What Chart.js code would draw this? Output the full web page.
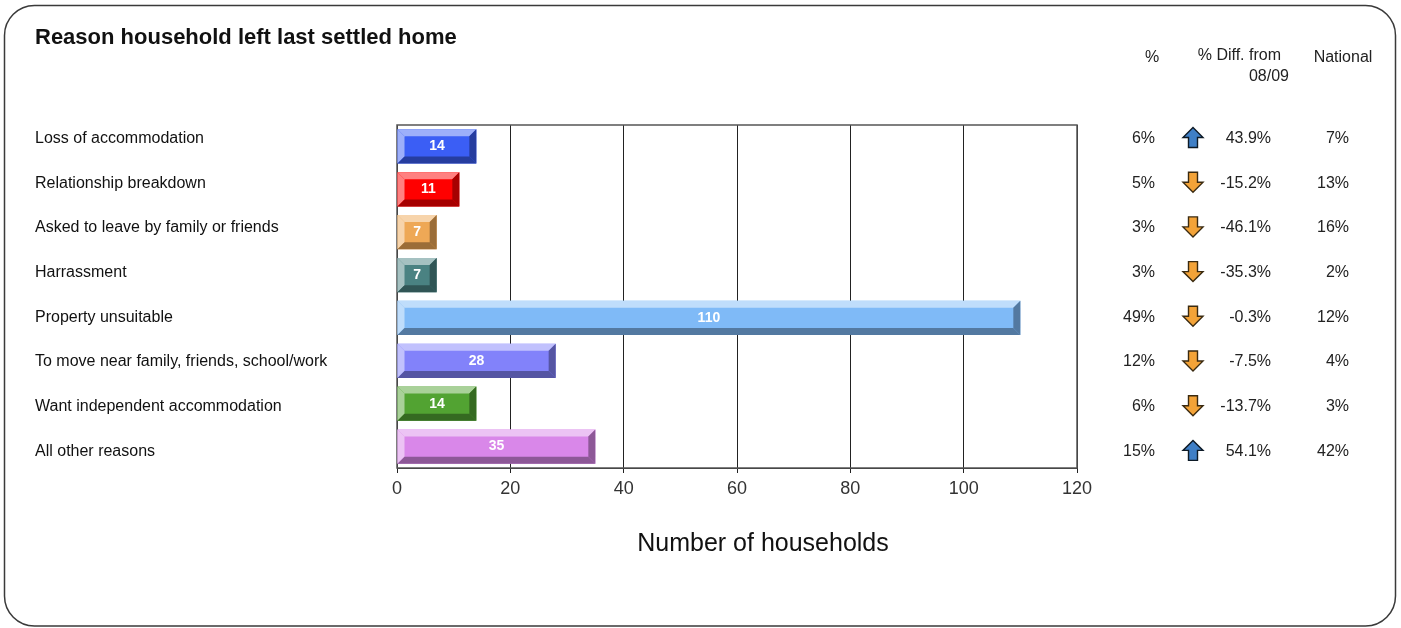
<!DOCTYPE html>
<html>
<head>
<meta charset="utf-8">
<script src="https://cdn.jsdelivr.net/npm/chart.js@4.4.1/dist/chart.umd.min.js"></script>
<style>
  html, body { margin: 0; padding: 0; background: #fff; }
  canvas { display: block; }
</style>
</head>
<body>
<canvas id="chart" width="1401" height="628"></canvas>
<script>
const reasons = [
  "Loss of accommodation",
  "Relationship breakdown",
  "Asked to leave by family or friends",
  "Harrassment",
  "Property unsuitable",
  "To move near family, friends, school/work",
  "Want independent accommodation",
  "All other reasons",
];
const households = [14, 11, 7, 7, 110, 28, 14, 35];
const sharePct = ["6%", "5%", "3%", "3%", "49%", "12%", "6%", "15%"];
const diffFrom0809 = [43.9, -15.2, -46.1, -35.3, -0.3, -7.5, -13.7, 54.1];
const nationalPct = ["7%", "13%", "16%", "2%", "12%", "4%", "3%", "42%"];
const barColors = ["#3b5ef5", "#ff0000", "#eea856", "#4a8282", "#7fbaf7", "#8282fa", "#52a332", "#d987e9"];
const xMax = 120;
const xStep = 20;

const FONT = "'Liberation Sans', Arial, sans-serif";

function mix(hex, target, amt) {
  const n = parseInt(hex.slice(1), 16);
  const c = [(n >> 16) & 255, (n >> 8) & 255, n & 255];
  const t = target === "white" ? 255 : 0;
  return "rgb(" + c.map(v => Math.round(v + (t - v) * amt)).join(",") + ")";
}

function rowY(i) {
  return 138.5 + i * 44.7;
}

function poly(ctx, pts, fill) {
  ctx.beginPath();
  ctx.moveTo(pts[0][0], pts[0][1]);
  for (let k = 1; k < pts.length; k++) ctx.lineTo(pts[k][0], pts[k][1]);
  ctx.closePath();
  ctx.fillStyle = fill;
  ctx.fill();
}

function drawArrow(ctx, cx, cy, up) {
  const hw = 10, sw = 4.5, h = 10, head = 10;
  const d = up ? -1 : 1;
  ctx.beginPath();
  ctx.moveTo(cx, cy + d * h);
  ctx.lineTo(cx + hw, cy + d * (h - head));
  ctx.lineTo(cx + sw, cy + d * (h - head));
  ctx.lineTo(cx + sw, cy - d * h);
  ctx.lineTo(cx - sw, cy - d * h);
  ctx.lineTo(cx - sw, cy + d * (h - head));
  ctx.lineTo(cx - hw, cy + d * (h - head));
  ctx.closePath();
  ctx.fillStyle = up ? "#3f7fc6" : "#f3a338";
  ctx.fill();
  ctx.lineWidth = 1.4;
  ctx.strokeStyle = up ? "#0d1a26" : "#3a2a10";
  ctx.stroke();
}

// page frame, heading and column headers
const framePlugin = {
  id: "frame",
  beforeDraw(chart) {
    const ctx = chart.ctx;
    ctx.save();
    ctx.fillStyle = "#fff";
    ctx.fillRect(0, 0, chart.width, chart.height);
    ctx.beginPath();
    ctx.roundRect(4.5, 5.5, 1391, 620.5, 30);
    ctx.lineWidth = 1.5;
    ctx.strokeStyle = "#3a3a3a";
    ctx.stroke();

    ctx.fillStyle = "#111";
    ctx.textBaseline = "middle";
    ctx.font = "bold 22px " + FONT;
    ctx.textAlign = "left";
    ctx.fillText("Reason household left last settled home", 35, 38);

    ctx.font = "16px " + FONT;
    ctx.fillStyle = "#222";
    ctx.textAlign = "center";
    ctx.fillText("%", 1152, 58);
    ctx.fillText("National", 1343, 58);
    ctx.textAlign = "right";
    ctx.fillText("% Diff. from", 1281, 56);
    ctx.fillText("08/09", 1289, 77);
    ctx.restore();
  },
  beforeDatasetsDraw(chart) {
    const { ctx, chartArea: a } = chart;
    ctx.save();
    ctx.lineWidth = 1.5;
    ctx.strokeStyle = "#555";
    ctx.strokeRect(a.left, a.top, a.right - a.left, a.bottom - a.top);
    ctx.restore();
  },
};

// bevelled bars with their value, row labels and the side table
const bevelPlugin = {
  id: "bevel",
  afterDatasetsDraw(chart) {
    const ctx = chart.ctx;
    const meta = chart.getDatasetMeta(0);
    ctx.save();
    meta.data.forEach((bar, i) => {
      const { x, y, base, height } = bar.getProps(["x", "y", "base", "height"], true);
      const l = base, r = x, t = y - height / 2, b = y + height / 2;
      const e = Math.min(7, (r - l) / 3);
      const col = barColors[i];
      const light = mix(col, "white", 0.5);
      const dark = mix(col, "black", 0.35);
      poly(ctx, [[l, t], [r, t], [r - e, t + e], [l + e, t + e]], light);
      poly(ctx, [[l, t], [l + e, t + e], [l + e, b - e], [l, b]], light);
      poly(ctx, [[l, b], [l + e, b - e], [r - e, b - e], [r, b]], dark);
      poly(ctx, [[r, t], [r, b], [r - e, b - e], [r - e, t + e]], dark);

      ctx.fillStyle = "#fff";
      ctx.font = "bold 14px " + FONT;
      ctx.textAlign = "center";
      ctx.textBaseline = "middle";
      ctx.fillText(String(households[i]), (l + r) / 2, y);
    });

    ctx.font = "16px " + FONT;
    ctx.textBaseline = "middle";
    reasons.forEach((name, i) => {
      const yy = rowY(i);
      ctx.textAlign = "left";
      ctx.fillStyle = "#111";
      ctx.fillText(name, 35, yy);
      ctx.fillStyle = "#222";
      ctx.textAlign = "right";
      ctx.fillText(sharePct[i], 1155, yy);
      ctx.fillText(diffFrom0809[i].toFixed(1) + "%", 1271, yy);
      ctx.fillText(nationalPct[i], 1349, yy);
      drawArrow(ctx, 1193, yy - 1, diffFrom0809[i] > 0);
    });

    ctx.fillStyle = "#111";
    ctx.font = "25px " + FONT;
    ctx.textAlign = "center";
    ctx.fillText("Number of households", 763, 544);
    ctx.restore();
  },
};

new Chart(document.getElementById("chart"), {
  type: "bar",
  data: {
    labels: reasons,
    datasets: [{
      data: households,
      backgroundColor: barColors,
      borderWidth: 0,
      barPercentage: 0.8,
      categoryPercentage: 1,
    }],
  },
  options: {
    indexAxis: "y",
    responsive: false,
    animation: false,
    layout: { padding: { left: 397, right: 324, top: 125, bottom: 0 } },
    plugins: {
      legend: { display: false },
      tooltip: { enabled: false },
    },
    scales: {
      x: {
        min: 0,
        max: xMax,
        afterFit(scale) { scale.height = 160; },
        grid: { color: "#222", lineWidth: 1, tickLength: 5, tickColor: "#222" },
        border: { display: true, color: "#222" },
        ticks: {
          stepSize: xStep,
          color: "#333",
          padding: 5,
          font: { family: FONT, size: 18 },
        },
      },
      y: {
        afterFit(scale) { scale.width = 0; },
        grid: { display: false },
        border: { display: false },
        ticks: { display: false },
      },
    },
  },
  plugins: [framePlugin, bevelPlugin],
});
</script>
</body>
</html>
